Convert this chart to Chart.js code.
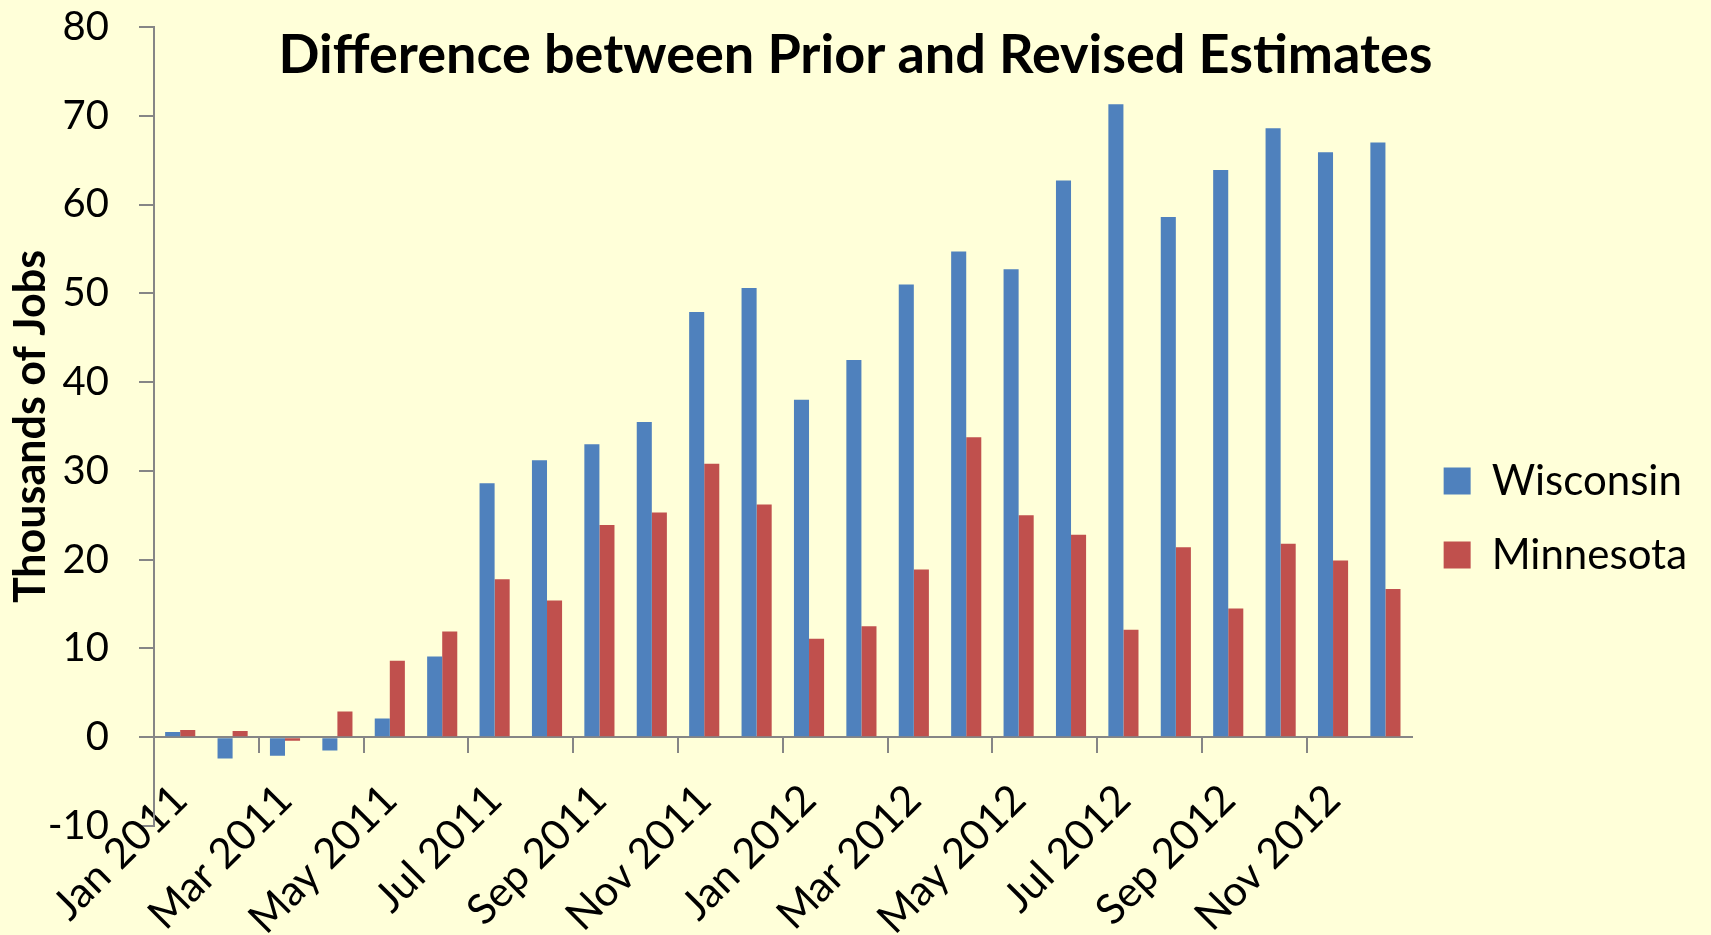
<!DOCTYPE html>
<html>
<head>
<meta charset="utf-8">
<script src="https://cdn.jsdelivr.net/npm/chart.js@4.4.0/dist/chart.umd.min.js"></script>
<style>
    html, body { margin: 0; padding: 0; background: #FFFFD9; }
    #wrap { position: relative; width: 1711px; height: 935px; }
    #title {
        position: absolute; left: 0; top: 26px; width: 1711px;
        text-align: center; font: bold 54px Lato, sans-serif; line-height: 54px; color: #000;
    }
</style>
</head>
<body>
<div id="wrap">
    <canvas id="chart" width="1711" height="935"></canvas>
    <div id="title">Difference between Prior and Revised Estimates</div>
</div>
<script>
// Months on the category axis
const months = [
    'Jan 2011', 'Feb 2011', 'Mar 2011', 'Apr 2011', 'May 2011', 'Jun 2011',
    'Jul 2011', 'Aug 2011', 'Sep 2011', 'Oct 2011', 'Nov 2011', 'Dec 2011',
    'Jan 2012', 'Feb 2012', 'Mar 2012', 'Apr 2012', 'May 2012', 'Jun 2012',
    'Jul 2012', 'Aug 2012', 'Sep 2012', 'Oct 2012', 'Nov 2012', 'Dec 2012'
];

// Thousands of jobs, revised minus prior estimate
const wisconsin = [0.6, -2.4, -2.1, -1.5, 2.1, 9.1, 28.6, 31.2, 33.0, 35.5, 47.9, 50.6,
                   38.0, 42.5, 51.0, 54.7, 52.7, 62.7, 71.3, 58.6, 63.9, 68.6, 65.9, 67.0];
const minnesota = [0.8, 0.7, -0.4, 2.9, 8.6, 11.9, 17.8, 15.4, 23.9, 25.3, 30.8, 26.2,
                   11.1, 12.5, 18.9, 33.8, 25.0, 22.8, 12.1, 21.4, 14.5, 21.8, 19.9, 16.7];

// Value axis range
const yMin = -10;
const yMax = 80;
const yStep = 10;

const axisGray = '#868686';
const fontFamily = 'Lato, "Open Sans", sans-serif';

// keep rotated month labels from pushing the plot area around
function noSidePadding(scale) {
    scale.paddingLeft = 0;
    scale.paddingRight = 0;
}

new Chart(document.getElementById('chart'), {
    type: 'bar',
    data: {
        labels: months,
        datasets: [
            { label: 'Wisconsin', data: wisconsin, backgroundColor: '#4F81BD' },
            { label: 'Minnesota', data: minnesota, backgroundColor: '#C0504D' }
        ]
    },
    options: {
        responsive: false,
        animation: false,
        categoryPercentage: 0.575,
        barPercentage: 1.0,
        layout: { padding: { top: 0, left: 0, right: 14, bottom: 109 } },
        plugins: {
            tooltip: { enabled: false },
            legend: {
                position: 'right',
                align: 'start',
                title: { display: true, text: ' ', font: { size: 10, lineHeight: 1.2 }, padding: { top: 416, bottom: 0 } },
                labels: {
                    boxWidth: 27, boxHeight: 27, padding: 32, color: '#000',
                    font: { family: fontFamily, size: 42 }
                }
            }
        },
        scales: {
            x: {
                position: { y: yMin },
                offset: true,
                grid: { display: false, drawTicks: false },
                border: { display: false },
                afterFit: noSidePadding,
                ticks: {
                    autoSkip: false, minRotation: 45, maxRotation: 45, padding: -51,
                    color: '#000', font: { family: fontFamily, size: 42 },
                    // label every other month, like the original
                    callback: function (value, index) {
                        return index % 2 === 0 ? this.getLabelForValue(value) : '';
                    }
                }
            },
            x2: {
                type: 'category',
                labels: months,
                position: { y: 0 },
                offset: true,
                afterFit: noSidePadding,
                grid: {
                    offset: true, drawOnChartArea: false, tickLength: 15, lineWidth: 2,
                    color: ctx => ctx.index % 2 === 0 ? axisGray : 'rgba(0,0,0,0)'
                },
                border: { color: axisGray, width: 2 },
                ticks: { display: false }
            },
            y: {
                min: yMin,
                max: yMax,
                afterFit: scale => {
                    scale.width = 154;
                    scale.paddingTop = 27;
                    scale.paddingBottom = 0;
                },
                ticks: { stepSize: yStep, padding: 30, color: '#000', font: { family: fontFamily, size: 40 } },
                grid: { drawOnChartArea: false, tickLength: 15, lineWidth: 2, color: axisGray },
                border: { color: axisGray, width: 2 },
                title: {
                    display: true, text: 'Thousands of Jobs', color: '#000',
                    font: { family: fontFamily, size: 43, weight: 'bold', lineHeight: 1 },
                    padding: { top: 10, bottom: 4 }
                }
            }
        }
    }
});
</script>
</body>
</html>
